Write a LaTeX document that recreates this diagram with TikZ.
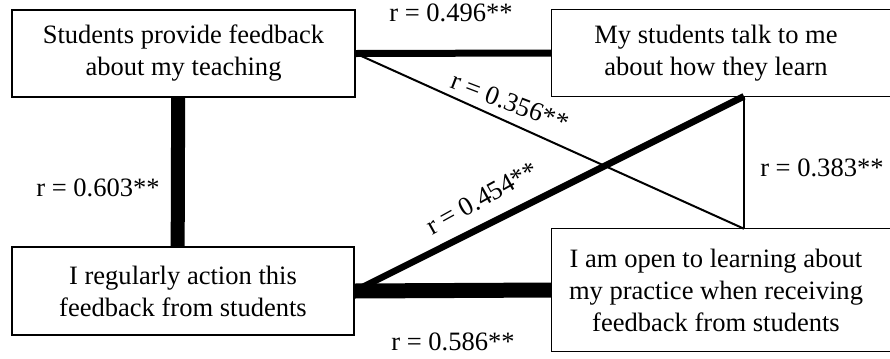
\documentclass[tikz,border=0pt]{standalone}
\usepackage{fontspec}
\setmainfont{Liberation Serif}
\begin{document}
\begin{tikzpicture}[x=0.75pt,y=-0.75pt,
  txt/.style={font=\fontsize{19.9}{24}\selectfont},
  box/.style={txt, draw, line width=1.1pt, fill=white, align=center, inner sep=0pt},
  openbox/.style={txt, align=center, inner sep=0pt},
  boxline/.style={line width=1.1pt},
  lbl/.style={txt, inner sep=0pt},
  link/.style={line width=#1}]
\useasboundingbox (0,0) rectangle (890,358);
\clip (0,0) rectangle (890,358);
% boxes
\node[box, minimum width=257.25pt, minimum height=65.25pt] (A) at (183.5,53.5) {Students provide feedback\\about my teaching};
\node[box, minimum width=256.5pt, minimum height=66pt] (C) at (183,291) {I regularly action this\\feedback from students};
\node[openbox, minimum width=246pt, minimum height=64.5pt] (B) at (716,53) {My students talk to me\\about how they learn};
\node[openbox, minimum width=246pt, minimum height=91.5pt] (D) at (716,290) {I am open to learning about\\my practice when receiving\\feedback from students};
\draw[boxline] ([xshift=7.5pt]B.north east) -- (B.north west) -- (B.south west) -- ([xshift=7.5pt]B.south east);
\draw[boxline] ([xshift=7.5pt]D.north east) -- (D.north west) -- (D.south west) -- ([xshift=7.5pt]D.south east);
% connectors
\coordinate (bs) at ([xshift=21pt]B.south);
\coordinate (dn) at ([xshift=21pt]D.north);
\draw[link=5.25pt] (A.east) -- (B.west);
\draw[link=10.5pt] ([xshift=-4pt]A.south) -- ([xshift=-4pt]C.north);
\draw[link=1.5pt] (A.east) -- (dn);
\draw[link=1.1pt] (bs) -- (dn);
\draw[link=5pt] (C.east) -- (bs);
\draw[link=11.25pt] (C.east) -- (D.west);
% labels
\node[lbl] (l1) at (451,13) {r = 0.496**};
\node[lbl, rotate=-21] (l2) at (510,102) {r = 0.356**};
\node[lbl, rotate=29] (l3) at (482,198) {r = 0.454**};
\node[lbl] (l4) at (98,188) {r = 0.603**};
\node[lbl, anchor=west] (l5) at (760,168) {r = 0.383**};
\node[lbl] (l6) at (453,342) {r = 0.586**};
\end{tikzpicture}
\end{document}
